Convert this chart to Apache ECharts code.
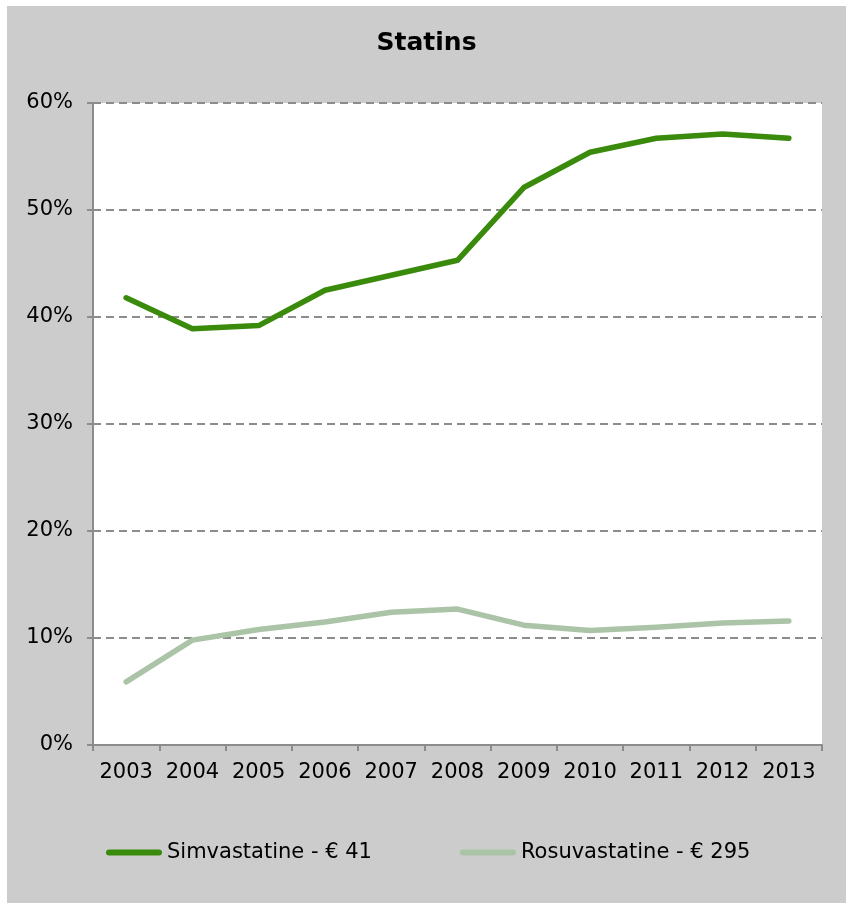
<!DOCTYPE html>
<html>
<head>
<meta charset="utf-8">
<title>Statins</title>
<script src="https://cdn.jsdelivr.net/npm/echarts@6/dist/echarts.min.js"></script>
<style>
  html, body { margin: 0; padding: 0; background: #ffffff; }
  #chart { position: absolute; left: 7px; top: 6px; width: 839px; height: 897px; background: #cccccc; }
</style>
</head>
<body>
<div id="chart"></div>
<script>
// Share of prescriptions per year
const years = ['2003', '2004', '2005', '2006', '2007', '2008', '2009', '2010', '2011', '2012', '2013'];
const simvastatine = [41.8, 38.9, 39.2, 42.5, 43.9, 45.3, 52.1, 55.4, 56.7, 57.1, 56.7];
const rosuvastatine = [5.9, 9.8, 10.8, 11.5, 12.4, 12.7, 11.2, 10.7, 11.0, 11.4, 11.6];
const seriesNames = ['Simvastatine - € 41', 'Rosuvastatine - € 295'];
const yTicks = [0, 10, 20, 30, 40, 50, 60];

const FONT = 'DejaVu Sans';
// thick rounded bar used as the legend key
const LEGEND_ICON = 'path://M3,0 L53,0 A3,3 0 0 1 53,6 L3,6 A3,3 0 0 1 3,0 Z';
const chart = echarts.init(document.getElementById('chart'), null, { renderer: 'canvas' });

chart.setOption({
  backgroundColor: '#cccccc',
  animation: false,
  textStyle: { fontFamily: FONT, color: '#000' },
  title: {
    text: 'Statins',
    left: 'center',
    top: 25,
    padding: 0,
    textStyle: { fontFamily: FONT, fontSize: 25, fontWeight: 'bold', color: '#000' }
  },
  legend: {
    left: 99,
    top: 836,
    padding: 0,
    icon: LEGEND_ICON,
    itemWidth: 56,
    itemHeight: 6,
    itemGap: 88,
    textStyle: { fontFamily: FONT, fontSize: 21, color: '#000' },
    data: seriesNames
  },
  grid: {
    left: 86,
    right: 24,
    top: 97,
    bottom: 158,
    show: true,
    backgroundColor: '#ffffff',
    borderWidth: 0,
    containLabel: false
  },
  xAxis: {
    type: 'category',
    data: years,
    boundaryGap: true,
    axisLine: { show: true, lineStyle: { color: '#8c8c8c', width: 2 } },
    axisTick: { show: true, length: 6, interval: 0, lineStyle: { color: '#8c8c8c', width: 2 } },
    axisLabel: { fontFamily: FONT, fontSize: 21, color: '#000', margin: 17, interval: 0 },
    splitLine: { show: false }
  },
  yAxis: {
    type: 'value',
    min: yTicks[0],
    max: yTicks[yTicks.length - 1],
    interval: 10,
    axisLine: { show: true, lineStyle: { color: '#8c8c8c', width: 2 } },
    axisTick: { show: true, length: 6, lineStyle: { color: '#8c8c8c', width: 2 } },
    axisLabel: { fontFamily: FONT, fontSize: 21, color: '#000', margin: 20, formatter: '{value}%' },
    splitLine: { show: true, lineStyle: { color: '#8c8c8c', width: 2, type: [8, 5] } }
  },
  series: [
    {
      name: seriesNames[0],
      type: 'line',
      data: simvastatine,
      symbol: 'none',
      lineStyle: { color: '#3a8a0b', width: 5.5, cap: 'round', join: 'round' },
      itemStyle: { color: '#3a8a0b' },
      z: 3
    },
    {
      name: seriesNames[1],
      type: 'line',
      data: rosuvastatine,
      symbol: 'none',
      lineStyle: { color: '#abc4a7', width: 5.5, cap: 'round', join: 'round' },
      itemStyle: { color: '#abc4a7' },
      z: 2
    }
  ]
});
</script>
</body>
</html>
